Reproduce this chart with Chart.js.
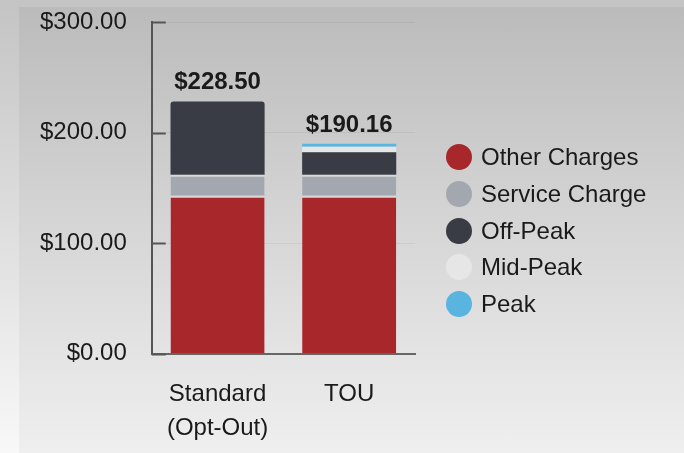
<!DOCTYPE html>
<html>
<head>
<meta charset="utf-8">
<script src="https://cdn.jsdelivr.net/npm/chart.js@4"></script>
<style>
  html, body { margin: 0; padding: 0; }
  body {
    width: 684px; height: 453px; overflow: hidden; position: relative;
    background: linear-gradient(#c4c4c4, #f8f8f8);
    font-family: "Liberation Sans", Arial, sans-serif;
  }
  #panel {
    position: absolute; left: 19px; top: 7px; right: 0; bottom: 0;
    background: linear-gradient(#bbbbbb, #d6d6d6 50%, #efefef);
  }
  #chart { position: absolute; left: 0; top: 0; }
  #legend { position: absolute; left: 446px; top: 139px; }
  .item { display: flex; align-items: center; height: 36.7px; font-size: 24px; color: #1a1a1a; }
  .dot { width: 26px; height: 26px; border-radius: 50%; margin-right: 9px; }
</style>
</head>
<body>
<div id="panel"></div>
<canvas id="chart" width="684" height="453"></canvas>
<div id="legend"></div>
<script>
const categories = [['Standard', '(Opt-Out)'], 'TOU'];
const otherCharges = [143.0, 143.0];
const serviceCharge = [19.0, 19.0];
const offPeak = [66.5, 20.5];
const midPeak = [0, 5.0];
const peak = [0, 2.66];
const yTicks = [0, 100, 200, 300];

const font = '"Liberation Sans", Arial, sans-serif';

// total above each stack
const totalsPlugin = {
    id: 'totals',
    afterDatasetsDraw(chart) {
        const ctx = chart.ctx;
        const y = chart.scales.y;
        const meta = chart.getDatasetMeta(0);
        ctx.save();
        ctx.font = 'bold 24px ' + font;
        ctx.fillStyle = '#1a1a1a';
        ctx.textAlign = 'center';
        ctx.textBaseline = 'alphabetic';
        categories.forEach((c, i) => {
            let total = 0;
            chart.data.datasets.forEach(ds => { total += ds.data[i]; });
            ctx.fillText('$' + total.toFixed(2), meta.data[i].x, y.getPixelForValue(total) - 12);
        });
        ctx.restore();
    }
};

// short tick marks pointing into the plot
const tickMarks = {
    id: 'tickMarks',
    afterDraw(chart) {
        const ctx = chart.ctx;
        const y = chart.scales.y;
        const left = chart.chartArea.left;
        ctx.save();
        ctx.strokeStyle = '#555';
        ctx.lineWidth = 2;
        y.ticks.forEach(t => {
            const py = Math.round(y.getPixelForValue(t.value)) + 0.5;
            ctx.beginPath();
            ctx.moveTo(left, py);
            ctx.lineTo(left + 14, py);
            ctx.stroke();
        });
        ctx.restore();
    }
};

const ctx = document.getElementById('chart').getContext('2d');
const chart = new Chart(ctx, {
    type: 'bar',
    data: {
        labels: categories,
        datasets: [
            {
                label: 'Other Charges',
                data: otherCharges,
                backgroundColor: '#a8272b',
                borderColor: '#d9d9d9',
                borderWidth: {top: 2, left: 0, right: 0, bottom: 0},
            },
            {
                label: 'Service Charge',
                data: serviceCharge,
                backgroundColor: '#a3a8b0',
                borderColor: '#d9d9d9',
                borderWidth: {top: 2, left: 0, right: 0, bottom: 0},
            },
            {
                label: 'Off-Peak',
                data: offPeak,
                backgroundColor: '#393c44',
                borderRadius: 3,
            },
            {
                label: 'Mid-Peak',
                data: midPeak,
                backgroundColor: '#e6e6e6',
            },
            {
                label: 'Peak',
                data: peak,
                backgroundColor: '#5ab4e0',
            },
        ]
    },
    options: {
        responsive: false,
        animation: false,
        barPercentage: 0.715,
        categoryPercentage: 1,
        layout: {
            padding: {left: 32, top: 6, right: 269, bottom: -16}
        },
        plugins: {
            legend: {display: false},
            tooltip: {enabled: false}
        },
        scales: {
            x: {
                stacked: true,
                grid: {display: false, drawTicks: false},
                border: {color: '#666', width: 2},
                ticks: {
                    color: '#1a1a1a',
                    padding: 24,
                    font: {family: font, size: 24, lineHeight: 1.4}
                }
            },
            y: {
                stacked: true,
                min: 0,
                max: 300,
                afterBuildTicks: axis => { axis.ticks = yTicks.map(v => ({value: v})); },
                grid: {color: 'rgba(0,0,0,0.05)', drawTicks: true, tickLength: 17, tickColor: 'rgba(0,0,0,0)'},
                border: {color: '#555', width: 2},
                ticks: {
                    color: '#1a1a1a',
                    padding: 8,
                    font: {family: font, size: 24},
                    callback: v => '$' + v.toFixed(2)
                }
            }
        }
    },
    plugins: [totalsPlugin, tickMarks]
});

// legend built from the chart's datasets
const legend = document.getElementById('legend');
chart.data.datasets.forEach(ds => {
    const row = document.createElement('div');
    row.className = 'item';
    const dot = document.createElement('span');
    dot.className = 'dot';
    dot.style.background = ds.backgroundColor;
    row.appendChild(dot);
    row.appendChild(document.createTextNode(ds.label));
    legend.appendChild(row);
});
</script>
</body>
</html>
